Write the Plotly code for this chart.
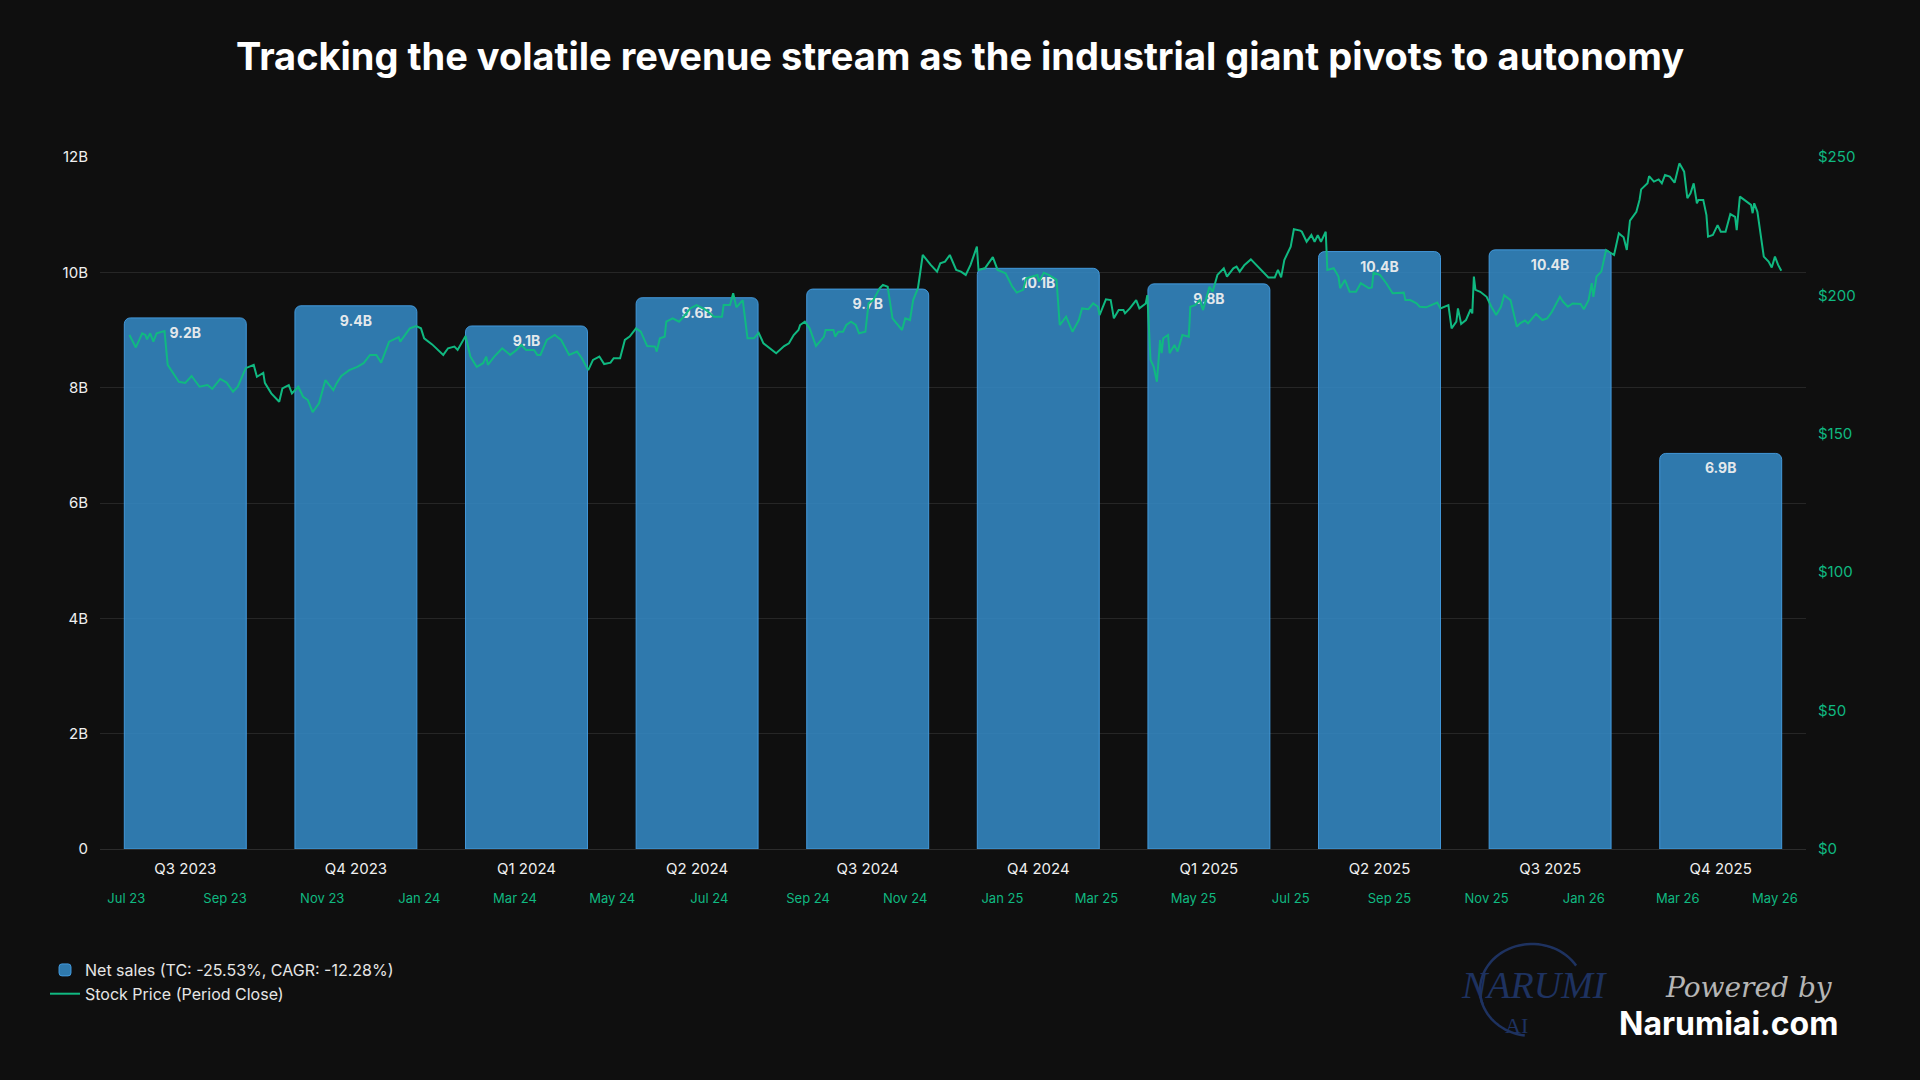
import numpy as np
import plotly.graph_objects as go

# ---------------- data ----------------
quarters = ["Q3 2023", "Q4 2023", "Q1 2024", "Q2 2024", "Q3 2024",
            "Q4 2024", "Q1 2025", "Q2 2025", "Q3 2025", "Q4 2025"]
net_sales_b = [9.21, 9.42, 9.07, 9.56, 9.71, 10.07, 9.80, 10.36, 10.39, 6.86]

left_tick_vals = [0, 2, 4, 6, 8, 10, 12]
left_tick_text = ["0", "2B", "4B", "6B", "8B", "10B", "12B"]
right_tick_vals = [0, 50, 100, 150, 200, 250]
right_tick_text = ["$0", "$50", "$100", "$150", "$200", "$250"]

stock_dates = [
    "2023-07-03", "2023-07-07", "2023-07-11", "2023-07-13", "2023-07-14", "2023-07-16", "2023-07-18", "2023-07-20",
    "2023-07-25", "2023-07-27", "2023-08-03", "2023-08-07", "2023-08-11", "2023-08-16", "2023-08-21", "2023-08-24",
    "2023-08-29", "2023-09-02", "2023-09-06", "2023-09-09", "2023-09-14", "2023-09-19", "2023-09-21", "2023-09-25",
    "2023-09-26", "2023-09-30", "2023-10-05", "2023-10-07", "2023-10-11", "2023-10-13", "2023-10-17", "2023-10-20",
    "2023-10-23", "2023-10-26", "2023-10-30", "2023-11-03", "2023-11-08", "2023-11-10", "2023-11-13", "2023-11-18",
    "2023-11-23", "2023-11-27", "2023-12-01", "2023-12-05", "2023-12-08", "2023-12-13", "2023-12-19", "2023-12-20",
    "2023-12-26", "2023-12-30", "2024-01-02", "2024-01-04", "2024-01-09", "2024-01-16", "2024-01-19", "2024-01-23",
    "2024-01-25", "2024-01-30", "2024-02-02", "2024-02-06", "2024-02-10", "2024-02-12", "2024-02-13", "2024-02-17",
    "2024-02-22", "2024-02-27", "2024-03-02", "2024-03-05", "2024-03-08", "2024-03-13", "2024-03-15", "2024-03-17",
    "2024-03-21", "2024-03-26", "2024-03-30", "2024-04-04", "2024-04-09", "2024-04-12", "2024-04-16", "2024-04-19",
    "2024-04-23", "2024-04-26", "2024-04-30", "2024-05-02", "2024-05-06", "2024-05-09", "2024-05-12", "2024-05-16",
    "2024-05-19", "2024-05-23", "2024-05-28", "2024-05-29", "2024-05-31", "2024-06-03", "2024-06-04", "2024-06-08",
    "2024-06-12", "2024-06-15", "2024-06-19", "2024-06-23", "2024-06-27", "2024-06-29", "2024-07-04", "2024-07-09",
    "2024-07-10", "2024-07-14", "2024-07-16", "2024-07-18", "2024-07-22", "2024-07-25", "2024-07-29", "2024-08-01",
    "2024-08-04", "2024-08-08", "2024-08-12", "2024-08-17", "2024-08-20", "2024-08-23", "2024-08-26", "2024-08-27",
    "2024-08-30", "2024-09-02", "2024-09-06", "2024-09-11", "2024-09-12", "2024-09-17", "2024-09-18", "2024-09-20",
    "2024-09-23", "2024-09-25", "2024-09-28", "2024-10-01", "2024-10-03", "2024-10-07", "2024-10-09", "2024-10-12",
    "2024-10-16", "2024-10-18", "2024-10-21", "2024-10-24", "2024-10-30", "2024-11-01", "2024-11-04", "2024-11-06",
    "2024-11-09", "2024-11-12", "2024-11-15", "2024-11-17", "2024-11-21", "2024-11-23", "2024-11-26", "2024-11-29",
    "2024-12-03", "2024-12-06", "2024-12-09", "2024-12-12", "2024-12-16", "2024-12-17", "2024-12-21", "2024-12-26",
    "2024-12-29", "2025-01-03", "2025-01-07", "2025-01-10", "2025-01-14", "2025-01-16", "2025-01-23", "2025-01-24",
    "2025-01-27", "2025-01-30", "2025-02-04", "2025-02-06", "2025-02-10", "2025-02-14", "2025-02-18", "2025-02-20",
    "2025-02-24", "2025-02-27", "2025-03-02", "2025-03-03", "2025-03-07", "2025-03-10", "2025-03-12", "2025-03-15",
    "2025-03-18", "2025-03-19", "2025-03-22", "2025-03-26", "2025-03-28", "2025-04-01", "2025-04-02", "2025-04-04",
    "2025-04-06", "2025-04-08", "2025-04-10", "2025-04-11", "2025-04-12", "2025-04-15", "2025-04-16", "2025-04-19",
    "2025-04-21", "2025-04-24", "2025-04-28", "2025-04-29", "2025-05-02", "2025-05-05", "2025-05-07", "2025-05-11",
    "2025-05-13", "2025-05-16", "2025-05-20", "2025-05-22", "2025-05-26", "2025-05-28", "2025-05-30", "2025-06-02",
    "2025-06-06", "2025-06-10", "2025-06-13", "2025-06-17", "2025-06-21", "2025-06-23", "2025-06-25", "2025-06-27",
    "2025-07-01", "2025-07-03", "2025-07-07", "2025-07-08", "2025-07-11", "2025-07-14", "2025-07-16", "2025-07-18",
    "2025-07-20", "2025-07-23", "2025-07-24", "2025-07-28", "2025-07-31", "2025-08-01", "2025-08-04", "2025-08-07",
    "2025-08-11", "2025-08-14", "2025-08-19", "2025-08-21", "2025-08-22", "2025-08-26", "2025-08-30", "2025-09-03",
    "2025-09-10", "2025-09-11", "2025-09-14", "2025-09-18", "2025-09-20", "2025-09-24", "2025-10-01", "2025-10-03",
    "2025-10-08", "2025-10-10", "2025-10-13", "2025-10-14", "2025-10-16", "2025-10-19", "2025-10-22", "2025-10-23",
    "2025-10-24", "2025-10-25", "2025-10-28", "2025-11-01", "2025-11-04", "2025-11-07", "2025-11-10", "2025-11-12",
    "2025-11-16", "2025-11-20", "2025-11-22", "2025-11-25", "2025-11-27", "2025-12-02", "2025-12-06", "2025-12-09",
    "2025-12-12", "2025-12-17", "2025-12-19", "2025-12-22", "2025-12-25", "2025-12-30", "2026-01-01", "2026-01-04",
    "2026-01-06", "2026-01-07", "2026-01-09", "2026-01-12", "2026-01-15", "2026-01-20", "2026-01-23", "2026-01-26",
    "2026-01-28", "2026-01-30", "2026-02-03", "2026-02-05", "2026-02-06", "2026-02-10", "2026-02-11", "2026-02-14",
    "2026-02-17", "2026-02-19", "2026-02-21", "2026-02-24", "2026-02-27", "2026-03-02", "2026-03-05", "2026-03-07",
    "2026-03-09", "2026-03-11", "2026-03-13", "2026-03-14", "2026-03-17", "2026-03-19", "2026-03-20", "2026-03-23",
    "2026-03-26", "2026-03-28", "2026-03-31", "2026-04-03", "2026-04-06", "2026-04-07", "2026-04-09", "2026-04-12",
    "2026-04-16", "2026-04-17", "2026-04-18", "2026-04-20", "2026-04-22", "2026-04-24", "2026-04-27", "2026-04-29",
    "2026-05-01", "2026-05-03", "2026-05-05",
]
stock_prices = [
    185.7, 181.2, 186.3, 185.7, 184.1, 186.3, 183.3, 186.3,
    187.1, 174.9, 168.8, 168.4, 170.9, 167.0, 167.6, 166.2,
    169.8, 168.5, 165.2, 167.0, 173.7, 174.9, 170.6, 172.0,
    168.4, 164.6, 161.6, 166.4, 167.6, 164.6, 167.0, 163.4,
    162.2, 157.8, 161.0, 169.4, 165.8, 168.2, 170.9, 173.0,
    174.2, 175.5, 178.5, 178.5, 175.7, 183.3, 184.9, 183.3,
    188.1, 188.9, 188.1, 184.5, 182.3, 178.5, 180.9, 181.5,
    180.3, 185.3, 177.9, 174.2, 175.5, 177.9, 174.9, 177.9,
    180.9, 178.5, 180.3, 182.1, 180.3, 180.3, 178.5, 178.5,
    183.9, 185.7, 183.9, 178.5, 179.7, 177.3, 173.0, 176.7,
    177.9, 175.2, 175.7, 177.3, 177.3, 183.9, 185.1, 188.1,
    186.9, 181.7, 181.5, 179.7, 184.5, 185.1, 190.5, 191.7,
    190.5, 192.3, 195.3, 196.5, 195.3, 194.7, 192.3, 192.3,
    196.5, 196.5, 200.8, 195.7, 198.3, 184.5, 184.5, 186.5,
    182.7, 180.9, 179.1, 181.7, 182.7, 185.7, 187.5, 189.3,
    190.5, 188.1, 181.7, 185.1, 187.5, 187.5, 185.1, 186.9,
    186.9, 189.3, 190.5, 189.3, 186.3, 186.9, 197.1, 198.3,
    202.6, 203.8, 203.1, 191.7, 187.5, 191.7, 191.1, 198.3,
    202.6, 214.6, 212.2, 211.0, 208.6, 211.6, 212.2, 214.6,
    209.2, 208.6, 207.4, 211.0, 217.6, 209.2, 209.8, 213.8,
    209.2, 208.0, 203.4, 201.0, 202.0, 206.2, 207.4, 205.0,
    208.2, 207.4, 205.6, 189.3, 192.3, 186.9, 191.1, 195.3,
    195.0, 197.1, 195.9, 192.9, 198.6, 198.3, 191.7, 194.7,
    194.7, 193.5, 195.3, 198.3, 195.3, 197.1, 200.1, 176.7,
    174.2, 168.8, 183.9, 179.1, 184.5, 185.7, 179.1, 182.1,
    179.7, 185.7, 185.1, 195.9, 196.5, 198.3, 194.7, 203.1,
    201.3, 207.4, 209.8, 206.8, 209.8, 210.4, 208.6, 211.0,
    213.0, 210.6, 208.6, 206.5, 206.5, 209.2, 206.5, 212.8,
    217.6, 223.9, 223.4, 223.0, 219.4, 221.8, 219.4, 221.8,
    219.4, 223.0, 209.2, 209.8, 206.8, 202.6, 205.6, 201.3,
    201.3, 204.4, 202.6, 202.9, 208.2, 207.4, 204.4, 200.8,
    201.0, 198.3, 198.3, 197.1, 195.9, 195.7, 197.4, 195.3,
    196.5, 188.1, 190.5, 195.3, 189.7, 191.1, 195.0, 193.5,
    206.8, 202.0, 201.3, 199.5, 195.9, 192.9, 195.9, 200.1,
    198.3, 188.7, 189.9, 190.9, 189.9, 193.3, 191.1, 191.7,
    194.1, 199.5, 197.7, 195.9, 197.1, 196.9, 195.0, 198.3,
    204.4, 199.5, 206.8, 208.6, 216.4, 214.6, 222.4, 221.0,
    216.4, 227.0, 230.2, 234.5, 238.3, 240.5, 243.1, 241.1,
    241.9, 240.5, 243.5, 242.9, 240.7, 247.7, 244.7, 235.1,
    236.9, 240.5, 233.3, 234.5, 234.5, 229.0, 221.2, 221.8,
    225.4, 223.0, 223.0, 229.4, 228.4, 223.6, 235.7, 234.5,
    232.7, 229.7, 233.3, 230.2, 221.2, 214.0, 212.2, 210.1,
    214.0, 211.0, 208.9,
]

title_text = "Tracking the volatile revenue stream as the industrial giant pivots to autonomy"
bar_name = "Net sales (TC: -25.53%, CAGR: -12.28%)"
line_name = "Stock Price (Period Close)"

# ---------------- style ----------------
BG = "#0f0f0f"
GRID = "#262626"
GREEN = "#10b981"
BAR_FILL = "rgba(52,138,199,0.86)"
BAR_EDGE = "rgba(70,160,230,0.9)"
FONT = "Inter, 'Noto Sans', sans-serif"

W, H = 1920, 1080
ML, MR, MT, MB = 100, 114, 157, 231
PW, PH = W - ML - MR, H - MT - MB


def px2x(px):
    return (px - ML) / PW


def px2y(py):
    return (H - MB - py) / PH


fig = go.Figure()

fig.add_trace(go.Bar(
    x=quarters, y=net_sales_b, name=bar_name,
    marker=dict(color=BAR_FILL, line=dict(color=BAR_EDGE, width=1), cornerradius=6),
    texttemplate="%{y:.1f}B", textposition="inside", insidetextanchor="end",
    textfont=dict(family=FONT, size=14, color="rgba(240,240,240,0.95)", weight=700),
    xaxis="x", yaxis="y",
))

fig.add_trace(go.Scatter(
    x=stock_dates, y=stock_prices, name=line_name, mode="lines",
    line=dict(color=GREEN, width=2),
    xaxis="x2", yaxis="y2",
))

# ---------------- logo (decorative) ----------------
cx, cy, rx, ry = 1532, 990, 52, 46
t1 = np.linspace(np.deg2rad(198), np.deg2rad(32), 40)
arc1 = [(cx + rx * np.cos(t), cy - ry * np.sin(t)) for t in t1]
t2 = np.linspace(np.deg2rad(188), np.deg2rad(262), 20)
arc2 = [(cx + rx * np.cos(t), cy - ry * np.sin(t)) for t in t2]


def path_of(pts):
    s = "M %.5f %.5f" % (px2x(pts[0][0]), px2y(pts[0][1]))
    for p in pts[1:]:
        s += " L %.5f %.5f" % (px2x(p[0]), px2y(p[1]))
    return s


LOGO = "#1e3260"
shapes = [
    dict(type="path", xref="paper", yref="paper", path=path_of(arc1),
         line=dict(color=LOGO, width=2.5)),
    dict(type="path", xref="paper", yref="paper", path=path_of(arc2),
         line=dict(color=LOGO, width=2.5)),
]

annotations = [
    dict(text="NARUMI", x=px2x(1534), y=px2y(985), xref="paper", yref="paper",
         showarrow=False, xanchor="center", yanchor="middle",
         font=dict(family="'Liberation Serif', serif", size=38, color=LOGO, style="italic")),
    dict(text="AI", x=px2x(1516), y=px2y(1025), xref="paper", yref="paper",
         showarrow=False, xanchor="center", yanchor="middle",
         font=dict(family="'Liberation Serif', serif", size=22, color=LOGO)),
    dict(text="Powered by", x=px2x(1749), y=px2y(987), xref="paper", yref="paper",
         showarrow=False, xanchor="center", yanchor="middle",
         font=dict(family="'DejaVu Serif', serif", size=28, color="#b5b5b5", style="italic")),
    dict(text="Narumiai.com", x=px2x(1728), y=px2y(1024), xref="paper", yref="paper",
         showarrow=False, xanchor="center", yanchor="middle",
         font=dict(family=FONT, size=32, color="#ffffff", weight=700)),
]

fig.update_layout(
    width=W, height=H,
    paper_bgcolor=BG, plot_bgcolor=BG,
    margin=dict(l=ML, r=MR, t=MT, b=MB),
    font=dict(family=FONT, color="#e6e6e6"),
    title=dict(text=title_text, x=0.5, xanchor="center", y=1 - 57 / H, yanchor="middle",
               font=dict(family=FONT, size=38, color="#ffffff", weight=700)),
    bargap=0.285,
    showlegend=True,
    legend=dict(x=px2x(45), y=px2y(953), xanchor="left", yanchor="top",
                orientation="v", bgcolor="rgba(0,0,0,0)",
                font=dict(family=FONT, size=16, color="#e6e6e6"),
                itemwidth=30, tracegroupgap=4),
    xaxis=dict(type="category", showgrid=False, zeroline=False, showline=False,
               ticks="outside", ticklen=6, tickcolor="rgba(0,0,0,0)",
               tickfont=dict(family=FONT, size=15, color="#f0f0f0"),
               range=[-0.5, len(quarters) - 0.5]),
    xaxis2=dict(type="date", overlaying="x", side="bottom", anchor="y",
                range=["2023-06-14 12:00", "2026-05-20 12:00"],
                tick0="2023-07-01", dtick="M2", tickformat="%b %y",
                showgrid=False, zeroline=False, showline=False,
                ticks="outside", ticklen=37, tickcolor="rgba(0,0,0,0)",
                tickfont=dict(family=FONT, size=13, color=GREEN)),
    yaxis=dict(range=[0, 12], tickvals=left_tick_vals, ticktext=left_tick_text,
               showgrid=True, gridcolor=GRID, gridwidth=1,
               zeroline=True, zerolinecolor="#2c2c2c", zerolinewidth=1,
               showline=False, ticks="outside", ticklen=8, tickcolor="rgba(0,0,0,0)",
               tickfont=dict(family=FONT, size=15, color="#f0f0f0")),
    yaxis2=dict(range=[0, 250], tickvals=right_tick_vals, ticktext=right_tick_text,
                overlaying="y", side="right", anchor="x",
                showgrid=False, zeroline=False, showline=False,
                ticks="outside", ticklen=8, tickcolor="rgba(0,0,0,0)",
                tickfont=dict(family=FONT, size=15, color=GREEN)),
    shapes=shapes,
    annotations=annotations,
)

fig.write_html("out.html")
